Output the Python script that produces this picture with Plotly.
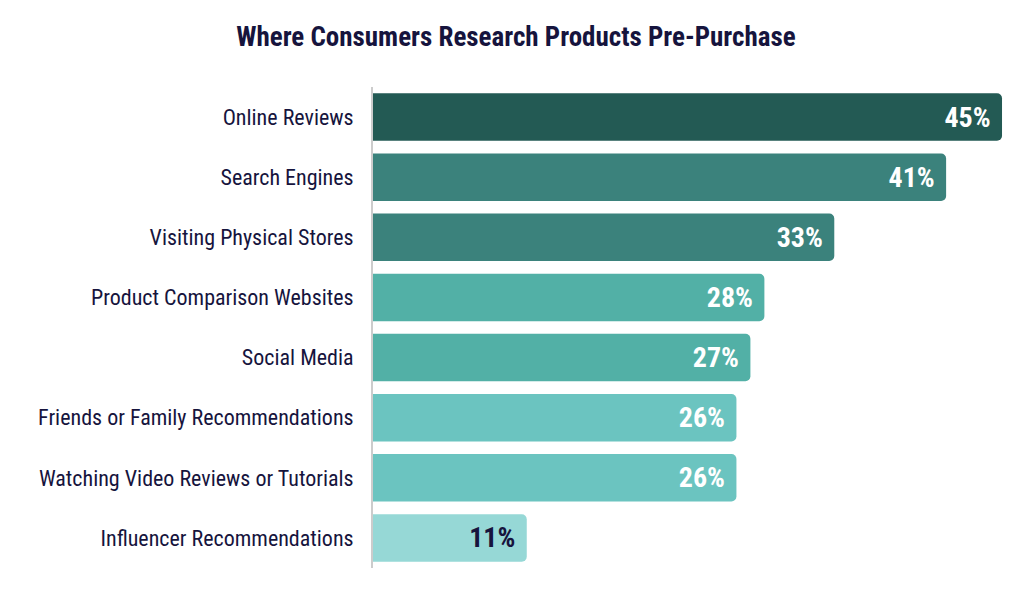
import plotly.graph_objects as go

categories = [
    "Online Reviews",
    "Search Engines",
    "Visiting Physical Stores",
    "Product Comparison Websites",
    "Social Media",
    "Friends or Family Recommendations",
    "Watching Video Reviews or Tutorials",
    "Influencer Recommendations",
]
values = [45, 41, 33, 28, 27, 26, 26, 11]
bar_colors = ["#235a54", "#3b827c", "#3b827c", "#52b0a6", "#52b0a6",
              "#6bc4c0", "#6bc4c0", "#96d8d6"]
label_colors = ["#ffffff"] * 7 + ["#16143d"]

FONT = "Roboto Condensed, Liberation Sans Narrow, DejaVu Sans Condensed, Roboto, sans-serif"

fig = go.Figure(go.Bar(
    x=values,
    y=categories,
    orientation="h",
    marker=dict(color=bar_colors, line=dict(width=0), cornerradius=5),
    width=0.79,
    text=[f"{v}%\u00a0" for v in values],
    textposition="inside",
    insidetextanchor="end",
    textfont=dict(family=FONT, size=28, color=label_colors, weight="bold"),
    textangle=0,
    hoverinfo="skip",
    cliponaxis=False,
))

fig.update_layout(
    width=1024, height=597,
    paper_bgcolor="white", plot_bgcolor="white",
    margin=dict(l=365, r=16, t=79, b=37, autoexpand=False),
    title=dict(text="<b>Where Consumers Research Products Pre-Purchase</b>",
               x=0.496, xanchor="center", y=0.953, yanchor="middle",
               font=dict(family=FONT, size=27, color="#16143d")),
    showlegend=False,
    uniformtext=dict(mode=None),
)
fig.update_xaxes(range=[0, 46], visible=False, fixedrange=True)
fig.update_yaxes(autorange="reversed", showline=True, linecolor="#cccccc", linewidth=2,
                 ticks="", ticklabelstandoff=13, showgrid=False, automargin=False,
                 tickfont=dict(family=FONT, size=22, color="#16143d"))
fig.write_html("out.html")
